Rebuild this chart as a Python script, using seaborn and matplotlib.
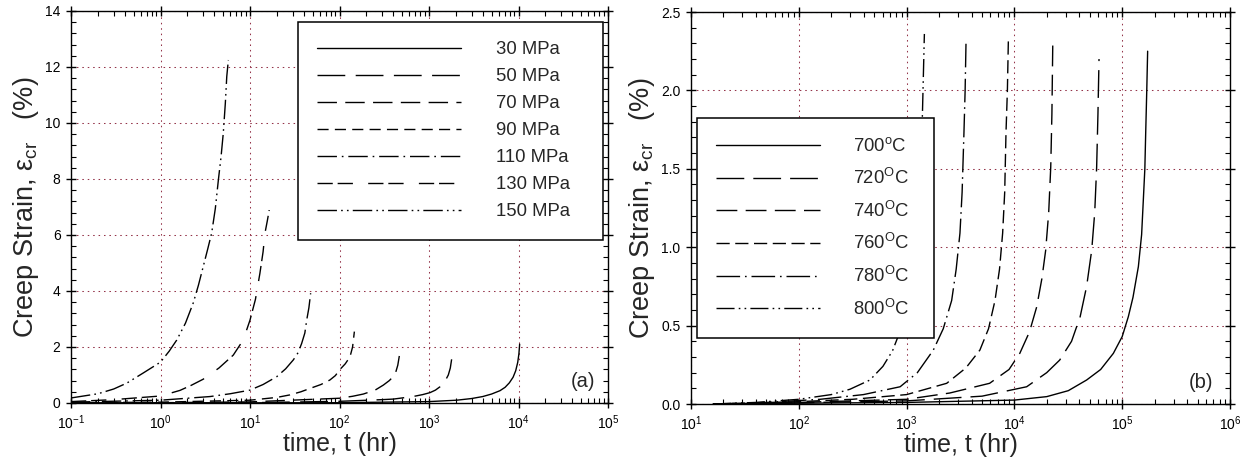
import numpy as np
import pandas as pd
import matplotlib
matplotlib.use("Agg")
import matplotlib.pyplot as plt
import seaborn as sns
from matplotlib.ticker import LogLocator, MultipleLocator, FixedLocator, NullFormatter

# ---------------- data: panel (a) stress series ----------------
labels_a = ["30 MPa", "50 MPa", "70 MPa", "90 MPa", "110 MPa", "130 MPa", "150 MPa"]
t_30 = [0.1, 100, 1000, 2040, 3000, 3980, 5000, 6210, 7080, 7900, 8700, 9300, 9800, 10100, 10300]
e_30 = [0.0, 0.01, 0.05, 0.10, 0.16, 0.23, 0.32, 0.44, 0.56, 0.72, 0.92, 1.15, 1.45, 1.75, 2.10]
t_50 = [0.1, 10, 100, 300, 400, 661, 850, 1026, 1180, 1327, 1500, 1643, 1730, 1790]
e_50 = [0.0, 0.01, 0.06, 0.12, 0.14, 0.23, 0.30, 0.37, 0.46, 0.58, 0.76, 1.00, 1.25, 1.56]
t_70 = [0.1, 1, 10, 100, 140, 184.6, 250, 309, 360, 398, 425, 448, 466]
e_70 = [0.0, 0.01, 0.04, 0.17, 0.24, 0.32, 0.46, 0.64, 0.80, 0.94, 1.10, 1.35, 1.68]
t_90 = [0.1, 1, 10, 20, 28, 37, 46.8, 62, 78, 90, 100, 116, 131, 140, 146.6]
e_90 = [0.01, 0.03, 0.10, 0.20, 0.29, 0.40, 0.52, 0.66, 0.82, 0.98, 1.18, 1.40, 1.65, 2.00, 2.55]
t_110 = [0.1, 1, 3.57, 6, 10, 14, 19.9, 25, 30.5, 34.5, 37.8, 41, 43, 45.5, 47.6]
e_110 = [0.03, 0.10, 0.23, 0.33, 0.46, 0.66, 0.94, 1.22, 1.54, 1.80, 2.13, 2.50, 2.96, 3.40, 3.92]
t_130 = [0.1, 0.3, 1.0, 1.65, 2.2, 3.0, 4.5, 6.5, 8.4, 10, 11.5, 12.9, 14.0, 14.7, 15.6, 16.4]
e_130 = [0.05, 0.12, 0.25, 0.45, 0.63, 0.85, 1.25, 1.71, 2.25, 2.96, 3.70, 4.63, 5.40, 6.07, 6.50, 6.89]
t_150 = [0.1, 0.2, 0.3, 0.42, 0.64, 1.0, 1.25, 1.52, 1.9, 2.32, 2.65, 3.0, 3.37, 3.73,
         4.1, 4.43, 4.75, 5.03, 5.3, 5.5, 5.73]
e_150 = [0.18, 0.33, 0.50, 0.71, 1.07, 1.46, 1.85, 2.25, 2.85, 3.57, 4.20, 4.87, 5.50, 6.07,
         6.95, 7.96, 8.80, 9.64, 10.70, 11.66, 12.25]

# ---------------- data: panel (b) temperature series ----------------
labels_b = ["700$^{\\mathdefault{o}}$C", "720$^{\\mathdefault{O}}$C", "740$^{\\mathdefault{O}}$C",
            "760$^{\\mathdefault{O}}$C", "780$^{\\mathdefault{O}}$C", "800$^{\\mathdefault{O}}$C"]
t_700 = [16, 100, 1000, 10000, 19950, 31620, 46770, 63100, 82800, 100000, 114000, 125900,
         141250, 151400, 157000, 162200, 165200, 169000, 172200]
e_700 = [0.0, 0.005, 0.01, 0.025, 0.047, 0.085, 0.153, 0.22, 0.323, 0.43, 0.557, 0.68,
         0.876, 1.08, 1.30, 1.50, 1.73, 2.00, 2.25]
t_720 = [16, 100, 1000, 5010, 13000, 19950, 26300, 33900, 40740, 46770, 52120, 55590, 57940,
         59570, 60950]
e_720 = [0.0, 0.008, 0.02, 0.05, 0.11, 0.20, 0.28, 0.40, 0.557, 0.75, 0.98, 1.22, 1.51,
         1.85, 2.20]
t_740 = [16, 100, 1000, 2512, 5890, 8913, 11220, 13800, 16110, 17990, 19500, 20800, 21730,
         22280, 22700]
e_740 = [0.0, 0.01, 0.03, 0.07, 0.132, 0.22, 0.323, 0.46, 0.62, 0.80, 0.98, 1.22, 1.51,
         1.85, 2.30]
t_760 = [16, 100, 316, 1000, 2355, 3548, 4786, 5754, 6607, 7278, 7780, 8128, 8356, 8610, 8790]
e_760 = [0.0, 0.015, 0.03, 0.06, 0.132, 0.23, 0.344, 0.48, 0.66, 0.86, 1.09, 1.35, 1.73,
         2.00, 2.32]
t_780 = [16, 50, 158, 398, 871, 1259, 1770, 2188, 2618, 2884, 3126, 3273, 3404, 3491, 3556]
e_780 = [0.0, 0.01, 0.03, 0.06, 0.11, 0.20, 0.344, 0.48, 0.66, 0.86, 1.09, 1.35, 1.73,
         2.00, 2.30]
t_800 = [16, 40, 100, 200, 298, 457, 603, 741, 912, 1072, 1202, 1303, 1365, 1400, 1462]
e_800 = [0.0, 0.01, 0.03, 0.06, 0.094, 0.153, 0.24, 0.34, 0.50, 0.70, 0.92, 1.20, 1.50,
         1.83, 2.36]

yticks_a = [0, 2, 4, 6, 8, 10, 12, 14]
yticks_b = [0.0, 0.5, 1.0, 1.5, 2.0, 2.5]

# ---------------- style ----------------
sns.set_theme(style="ticks")
plt.rcParams["font.family"] = ["Liberation Sans", "DejaVu Sans"]
plt.rcParams["mathtext.fontset"] = "custom"
plt.rcParams["mathtext.rm"] = "Liberation Sans"
plt.rcParams["mathtext.it"] = "Liberation Sans:italic"
plt.rcParams["lines.scale_dashes"] = False

styles_a = ["-", (0, (20, 7.5)), (0, (14, 6)), (0, (8, 4.5)),
            (0, (14, 3.5, 1.2, 3.5)), (0, (11, 3.5, 11, 11)), (0, (14, 3, 1.2, 3, 1.2, 3))]
styles_b = ["-", (0, (20, 6.5)), (0, (15, 6)), (0, (9.5, 4)),
            (0, (17, 3.5, 1.2, 3.5)), (0, (13, 3, 1.2, 3, 1.2, 3))]

series_a = [(t_30, e_30), (t_50, e_50), (t_70, e_70), (t_90, e_90),
            (t_110, e_110), (t_130, e_130), (t_150, e_150)]
series_b = [(t_700, e_700), (t_720, e_720), (t_740, e_740), (t_760, e_760),
            (t_780, e_780), (t_800, e_800)]

fig = plt.figure(figsize=(12.45, 4.63), dpi=100)
ax1 = fig.add_axes([71 / 1245, 1 - 403 / 463, 537 / 1245, 392 / 463])
ax2 = fig.add_axes([691 / 1245, 1 - 404 / 463, 539 / 1245, 392 / 463])

grid_color = "#943349"


def draw(ax, series, labels, styles):
    handles = []
    for (t, e), lab, ls in zip(series, labels, styles):
        df = pd.DataFrame({"t": t, "e": e})
        sns.lineplot(data=df, x="t", y="e", ax=ax, color="black", lw=1.0,
                     linestyle=ls, estimator=None, sort=False, label=lab)
        handles.append(ax.lines[-1])
    return handles


def style_axes(ax, xlim, ylim, yticks, ylabels, minor_step):
    ax.set_xscale("log")
    ax.set_xlim(*xlim)
    ax.set_ylim(*ylim)
    ax.xaxis.set_major_locator(LogLocator(base=10, numticks=20))
    ax.xaxis.set_minor_locator(LogLocator(base=10, subs=np.arange(2, 10), numticks=20))
    ax.xaxis.set_minor_formatter(NullFormatter())
    ax.yaxis.set_major_locator(FixedLocator(yticks))
    ax.set_yticklabels(ylabels)
    ax.yaxis.set_minor_locator(MultipleLocator(minor_step))
    ax.tick_params(which="major", direction="inout", length=7, width=1.0,
                   top=True, right=True, colors="black", labelsize=10, pad=4)
    ax.tick_params(which="minor", direction="in", length=3.5, width=0.8,
                   top=True, right=True, colors="black")
    ax.grid(True, which="major", color=grid_color, linestyle=(0, (1.1, 2.8)), lw=0.75)
    for s in ax.spines.values():
        s.set_color("black")
        s.set_linewidth(1.0)
    ax.set_xlabel("time, t (hr)", fontsize=18, labelpad=0)
    ax.set_ylabel("Creep Strain, $\\mathdefault{\\varepsilon_{cr}}$   (%)", fontsize=19.5, labelpad=3)


h1 = draw(ax1, series_a, labels_a, styles_a)
style_axes(ax1, (0.1, 1e5), (0, 14), yticks_a, [str(v) for v in yticks_a], 0.4)
h2 = draw(ax2, series_b, labels_b, styles_b)
style_axes(ax2, (10, 1e6), (0, 2.5), yticks_b, ["%.1f" % v for v in yticks_b], 0.1)

leg1 = ax1.legend(handles=h1, labels=labels_a, loc="upper left",
                  bbox_to_anchor=(227 / 537, 381 / 392, 305 / 537, 0.0), mode="expand",
                  borderaxespad=0, fontsize=13.3, handlelength=7.8, handletextpad=1.85,
                  labelspacing=0.54, borderpad=1.05, fancybox=False, framealpha=1,
                  edgecolor="black")
leg1.get_frame().set_linewidth(1.1)
leg2 = ax2.legend(handles=h2, labels=labels_b, loc="upper left",
                  bbox_to_anchor=(6 / 539, 286 / 392, 237 / 539, 0.0), mode="expand",
                  borderaxespad=0, fontsize=13.3, handlelength=5.6, handletextpad=1.8,
                  labelspacing=0.68, borderpad=1.05, fancybox=False, framealpha=1,
                  edgecolor="black")
leg2.get_frame().set_linewidth(1.1)

ax1.text(0.953, 0.054, "(a)", transform=ax1.transAxes, fontsize=14.5, ha="center", va="center")
ax2.text(0.947, 0.054, "(b)", transform=ax2.transAxes, fontsize=14.5, ha="center", va="center")

fig.savefig("out.png", dpi=100)
